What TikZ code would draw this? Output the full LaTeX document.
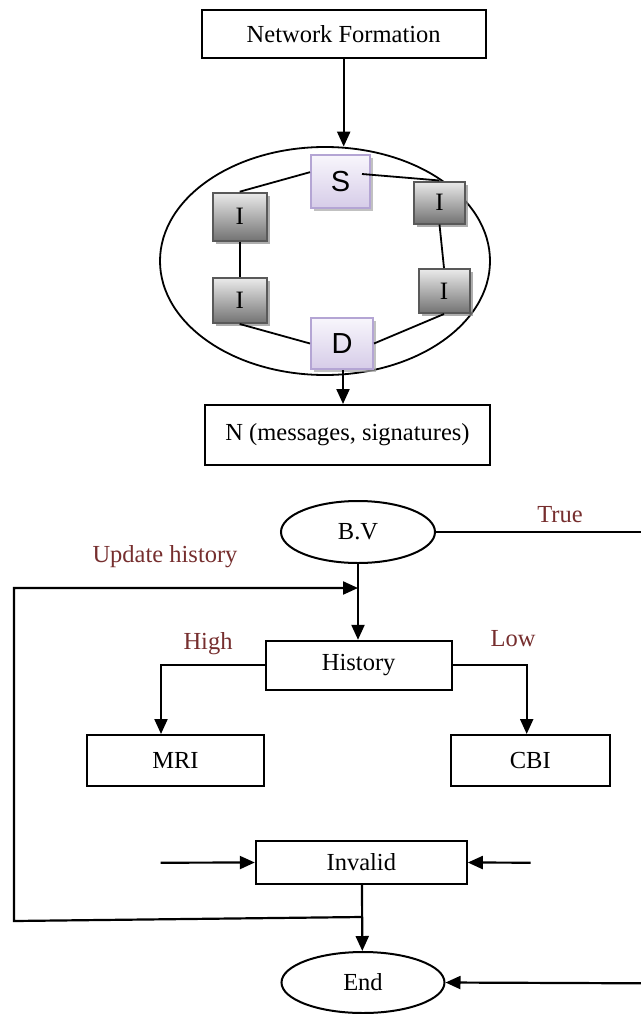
\documentclass[tikz,border=0pt]{standalone}
\usepackage{fontspec}
\setmainfont{Liberation Serif}
\newfontfamily\arialfont{Liberation Sans}
\usetikzlibrary{arrows.meta,shapes.geometric,shadows,calc}
\definecolor{lbl}{RGB}{118,46,46}
\definecolor{lavb}{RGB}{180,165,212}
\definecolor{lavt}{RGB}{248,246,252}
\definecolor{lavbot}{RGB}{214,204,232}
\begin{document}
\begin{tikzpicture}[x=1pt,y=-1pt,
  box/.style={draw,line width=2pt,rectangle,inner sep=0pt,font=\fontsize{24.5}{28}\selectfont},
  oval/.style={draw,line width=2pt,ellipse,inner sep=0pt,font=\fontsize{24.5}{28}\selectfont},
  conn/.style={line width=2.2pt},
  arr/.style={line width=2.2pt,-{Triangle[length=15pt,width=13pt]}},
  netline/.style={line width=1.8pt},
  ibox/.style={rectangle,draw=black!65,line width=2pt,inner sep=0pt,top color=black!8,bottom color=black!55,
     drop shadow={shadow xshift=3pt,shadow yshift=-3pt,fill=black!45,opacity=0.7},font=\fontsize{25}{28}\selectfont},
  pbox/.style={rectangle,draw=lavb,line width=2pt,inner sep=0pt,top color=lavt,bottom color=lavbot,
     drop shadow={shadow xshift=3pt,shadow yshift=-3pt,fill=black!35,opacity=0.7},font=\arialfont\fontsize{29}{32}\selectfont},
  lab/.style={text=lbl,font=\fontsize{24.5}{28}\selectfont,inner sep=0pt}]
\useasboundingbox (0,0) rectangle (640,1014);

% top part
\node[box,minimum width=284pt,minimum height=48pt] (NF) at (343.7,34) {Network Formation};
\node[draw,line width=1.8pt,ellipse,minimum width=330pt,minimum height=228pt,inner sep=0pt] (net) at (325,261) {};
\node[box,minimum width=285pt,minimum height=60pt] (N) at (347.5,435) {N (messages, signatures)};

\coordinate (netin) at ($(net.north -| NF.south)+(0,0.5)$);
\draw[arr] (NF.south) -- (netin);

\node[pbox,minimum width=59pt,minimum height=53pt] (S) at (340.5,181.5) {S};
\node[ibox,minimum width=54pt,minimum height=48pt] (ITL) at (239.7,216.7) {I};
\node[ibox,minimum width=54pt,minimum height=45pt] (IBL) at (239.7,300.5) {I};
\node[ibox,minimum width=51pt,minimum height=42pt] (ITR) at (439.5,202.5) {I};
\node[ibox,minimum width=51pt,minimum height=44pt] (IBR) at (444,291) {I};
\node[pbox,minimum width=62pt,minimum height=51pt] (D) at (342,343.5) {D};

\draw[netline] (S.163) -- (ITL.north);
\draw[netline] ($(S.east)+(-9,-7.5)$) -- (ITR.north);
\draw[netline] (ITL.south) -- (IBL.north);
\draw[netline] (ITR.south) -- (IBR.north);
\draw[netline] (IBL.south) -- (D.west);
\draw[netline] (IBR.south) -- (D.east);
\draw[arr] ($(D.south)+(1,0)$) -- ($(N.north)+(-4.5,0)$);

% lower flow chart
\node[oval,minimum width=154pt,minimum height=62pt] (BV) at (358,532) {B.V};
\node[box,minimum width=186pt,minimum height=49pt] (Hist) at (358.7,665.3) {History};
\node[box,minimum width=177pt,minimum height=51pt] (MRI) at (175.5,760.5) {MRI};
\node[box,minimum width=159pt,minimum height=51pt] (CBI) at (530.3,760.5) {CBI};
\node[box,minimum width=211pt,minimum height=43pt] (Inv) at (361.3,862.5) {Invalid};
\node[oval,minimum width=163pt,minimum height=61pt] (End) at (363,982.5) {End};

\coordinate (tr) at (641,532);
\coordinate (er) at (641,983.3);
\coordinate (il) at (160.7,862.7);
\coordinate (ir) at (530.7,862.7);
\coordinate (j1) at (362,917);
\coordinate (j2) at (358,588);

\draw[arr] (BV.south) -- (BV.south |- Hist.north);
\draw[arr] (j1) -- (14,921) -- (14,588) -- (j2);
\draw[arr] (Hist.west) -| ($(MRI.north)+(-14.5,0)$);
\draw[arr] (Hist.east) -| ($(CBI.north)+(-3.6,0)$);
\draw[conn] (BV.east) -- (tr);
\draw[arr] (er) -- (End.east);
\draw[arr] (il) -- (Inv.west);
\draw[arr] (ir) -- (Inv.east);
\draw[arr] ($(Inv.south)+(0.7,0)$) -- ($(End.north)+(-0.7,0)$);

\node[lab] (tTrue) at (560,515) {True};
\node[lab] (tUpd) at (165,557) {Update history};
\node[lab] (tHigh) at (208,644) {High};
\node[lab] (tLow) at (513,639) {Low};
\end{tikzpicture}
\end{document}
